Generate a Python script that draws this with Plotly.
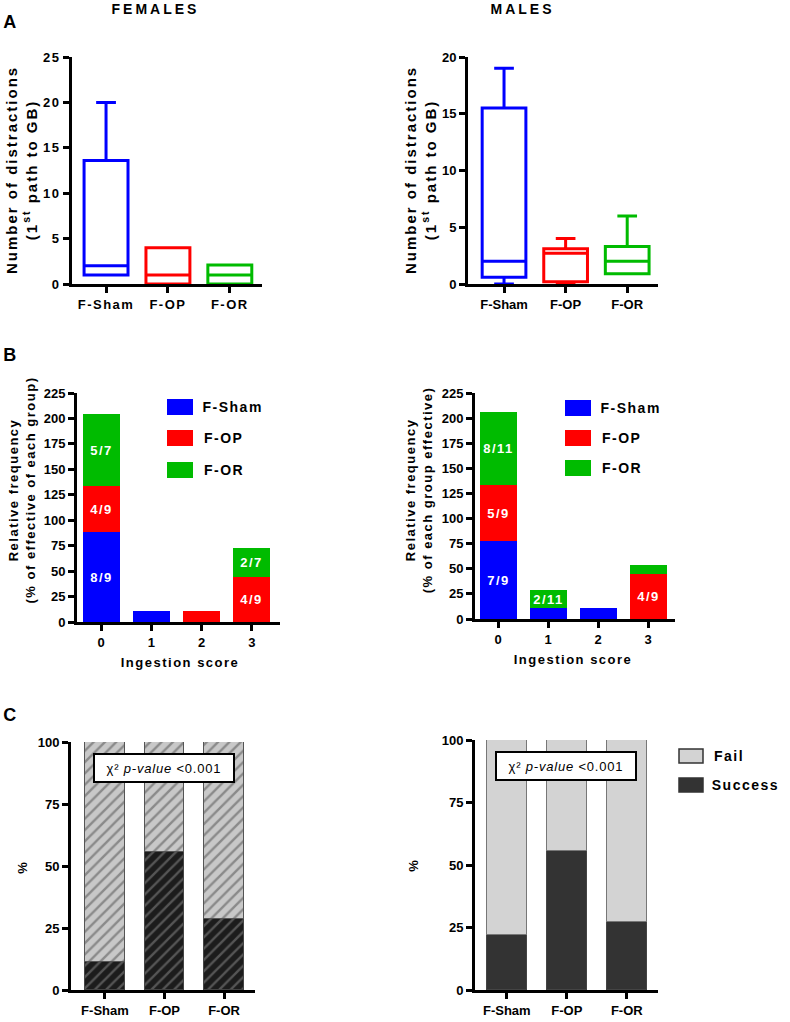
import plotly.graph_objects as go

W, H = 790, 1022

# --- data -------------------------------------------------------------
groups = ["F-Sham", "F-OP", "F-OR"]
colors = ["#0000ff", "#ff0000", "#00bb00"]

# panel A : box summaries (number of distractions)
fem_q1 = [1.0, 0.0, 0.0]
fem_med = [2.0, 1.0, 1.0]
fem_q3 = [13.6, 4.0, 2.1]
fem_lo = [1.0, 0.0, 0.0]
fem_hi = [20.0, 4.0, 2.1]

male_q1 = [0.6, 0.2, 0.9]
male_med = [2.0, 2.7, 2.0]
male_q3 = [15.5, 3.1, 3.3]
male_lo = [0.0, 0.0, 0.9]
male_hi = [19.0, 4.0, 6.0]

# panel B : relative frequency per ingestion score
scores = [0, 1, 2, 3]
fem_sham_B = [88.9, 11.1, None, None]
fem_op_B = [44.4, None, 11.1, 44.4]
fem_or_B = [71.4, None, None, 28.6]
fem_sham_lbl = ["8/9", None, None, None]
fem_op_lbl = ["4/9", None, None, "4/9"]
fem_or_lbl = ["5/7", None, None, "2/7"]

male_sham_B = [77.8, 11.1, 11.1, None]
male_op_B = [55.6, None, None, 44.4]
male_or_B = [72.7, 18.2, None, 9.1]
male_sham_lbl = ["7/9", None, None, None]
male_op_lbl = ["5/9", None, None, "4/9"]
male_or_lbl = ["8/11", "2/11", None, None]

# panel C : success / fail (%)
fem_success = [11.1, 55.6, 28.6]
fem_fail = [88.9, 44.4, 71.4]
male_success = [22.2, 55.6, 27.3]
male_fail = [77.8, 44.4, 72.7]


def px(x):
    return x / W


def py(y):
    return 1 - y / H


FONT = "Liberation Sans"
tickfont = dict(family=FONT, size=13, color="black", weight="bold")

fig = go.Figure()

# --- panel A ----------------------------------------------------------
for i, g in enumerate(groups):
    fig.add_trace(go.Box(x=[g], q1=[fem_q1[i]], median=[fem_med[i]], q3=[fem_q3[i]],
                         lowerfence=[fem_lo[i]], upperfence=[fem_hi[i]],
                         line=dict(color=colors[i], width=3), fillcolor="rgba(0,0,0,0)",
                         width=0.71, whiskerwidth=0.45, boxpoints=False,
                         xaxis="x", yaxis="y", showlegend=False))
    fig.add_trace(go.Box(x=[g], q1=[male_q1[i]], median=[male_med[i]], q3=[male_q3[i]],
                         lowerfence=[male_lo[i]], upperfence=[male_hi[i]],
                         line=dict(color=colors[i], width=3), fillcolor="rgba(0,0,0,0)",
                         width=0.71, whiskerwidth=0.45, boxpoints=False,
                         xaxis="x2", yaxis="y2", showlegend=False))

# --- panel B ----------------------------------------------------------
def stacked(vals, lbls, col, xa, ya):
    fig.add_trace(go.Bar(x=scores, y=vals, text=lbls, marker=dict(color=col, line=dict(width=0)),
                         width=0.74, textposition="inside", insidetextanchor="middle",
                         textangle=0, constraintext="none",
                         textfont=dict(family=FONT, size=13, color="white", weight="bold"),
                         xaxis=xa, yaxis=ya, showlegend=False))


stacked(fem_sham_B, fem_sham_lbl, colors[0], "x3", "y3")
stacked(fem_op_B, fem_op_lbl, colors[1], "x3", "y3")
stacked(fem_or_B, fem_or_lbl, colors[2], "x3", "y3")
stacked(male_sham_B, male_sham_lbl, colors[0], "x4", "y4")
stacked(male_op_B, male_op_lbl, colors[1], "x4", "y4")
stacked(male_or_B, male_or_lbl, colors[2], "x4", "y4")

# --- panel C ----------------------------------------------------------
fig.add_trace(go.Bar(x=groups, y=fem_success, width=0.67, xaxis="x5", yaxis="y5", showlegend=False,
                     marker=dict(color="#1c1c1c", line=dict(color="#444", width=1),
                                 pattern=dict(shape="/", bgcolor="#1c1c1c", fgcolor="#555555",
                                              size=8, solidity=0.3, fillmode="replace"))))
fig.add_trace(go.Bar(x=groups, y=fem_fail, width=0.67, xaxis="x5", yaxis="y5", showlegend=False,
                     marker=dict(color="#c8c8c8", line=dict(color="#555", width=1),
                                 pattern=dict(shape="/", bgcolor="#c8c8c8", fgcolor="#8a8a8a",
                                              size=8, solidity=0.3, fillmode="replace"))))
fig.add_trace(go.Bar(x=groups, y=male_success, width=0.67, xaxis="x6", yaxis="y6", showlegend=False,
                     marker=dict(color="#333333", line=dict(color="#444", width=1))))
fig.add_trace(go.Bar(x=groups, y=male_fail, width=0.67, xaxis="x6", yaxis="y6", showlegend=False,
                     marker=dict(color="#d3d3d3", line=dict(color="#777", width=1))))

# --- axes -------------------------------------------------------------
axbase = dict(showline=True, linewidth=3, linecolor="black", ticks="outside", ticklen=6,
              tickwidth=3, tickcolor="black", showgrid=False, zeroline=False,
              tickfont=tickfont, fixedrange=True, automargin=False)

panels = [
    # name, xdom px, ydom px (bottom, top), xrange, yrange, dtick
    ("", (72, 262), (284, 57), [-0.55, 2.52], [0, 25], 5),
    ("2", (468, 658), (284, 57), [-0.585, 2.5], [0, 20], 5),
    ("3", (77, 280), (622, 393), [-0.48, 3.56], [0, 225], 25),
    ("4", (475, 675), (619, 393), [-0.46, 3.54], [0, 225], 25),
    ("5", (71, 255), (990, 742), [-0.57, 2.52], [0, 100], 25),
    ("6", (475, 658), (990, 740), [-0.53, 2.52], [0, 100], 25),
]
for n, xd, yd, xr, yr, dt in panels:
    xa = dict(axbase, domain=[px(xd[0]), px(xd[1])], range=xr, anchor="y" + n)
    ya = dict(axbase, domain=[py(yd[0]), py(yd[1])], range=yr, dtick=dt, anchor="x" + n)
    if n in ("3", "4"):
        xa.update(tickvals=scores)
    fig.update_layout(**{"xaxis" + n: xa, "yaxis" + n: ya})

# --- text -------------------------------------------------------------
def note(x, y, text, size=13, angle=0, xanchor="center", **kw):
    fig.add_annotation(x=px(x), y=py(y), xref="paper", yref="paper", text=text, showarrow=False,
                       textangle=angle, xanchor=xanchor, yanchor="middle",
                       font=dict(family=FONT, size=size, color="black", weight="bold"), **kw)


note(155, 9, "FEMALES", size=14)
note(522, 9, "MALES", size=14)
note(10, 22, "A", size=18)
note(10, 355, "B", size=18)
note(10, 715, "C", size=18)

note(22, 170, "Number of distractions<br>(1<sup>st</sup> path to GB)", size=15, angle=-90)
note(421, 170, "Number of distractions<br>(1<sup>st</sup> path to GB)", size=15, angle=-90)
note(22, 490, "Relative frequency<br>(% of effective of each group)", size=13, angle=-90)
note(419, 490, "Relative frequency<br>(% of each group effective)", size=13, angle=-90)
note(180, 662, "Ingestion score", size=13)
note(573, 659, "Ingestion score", size=13)
note(22, 867, "%", size=13, angle=-90)
note(413, 865, "%", size=13, angle=-90)

for cx, cy in [(164, 768), (566, 766)]:
    fig.add_annotation(x=px(cx), y=py(cy), xref="paper", yref="paper", showarrow=False,
                       xanchor="center", yanchor="middle",
                       text="χ² <i>p-value</i> <0.001", width=134, height=22,
                       bgcolor="white", bordercolor="black", borderwidth=2, borderpad=2,
                       font=dict(family=FONT, size=13, color="black"))

# legend swatches
legend_names = ["F-Sham", "F-OP", "F-OR"]
for x0, ys in [(167, [407, 438, 470]), (565, [408, 438, 468])]:
    for name, col, yc in zip(legend_names, colors, ys):
        fig.add_shape(type="rect", xref="paper", yref="paper", x0=px(x0), x1=px(x0 + 26),
                      y0=py(yc + 8), y1=py(yc - 8), fillcolor=col, line=dict(width=0))
        note(x0 + 38, yc, name, size=14, xanchor="left")

for name, col, yc in [("Fail", "#d3d3d3", 756), ("Success", "#333333", 785)]:
    fig.add_shape(type="rect", xref="paper", yref="paper", x0=px(679), x1=px(703),
                  y0=py(yc + 7), y1=py(yc - 7), fillcolor=col, line=dict(color="#333", width=1.5))
    note(715, yc, name, size=14, xanchor="left")

fig.update_layout(width=W, height=H, margin=dict(l=0, r=0, t=0, b=0, autoexpand=False),
                  template="none", plot_bgcolor="white", paper_bgcolor="white", barmode="stack",
                  boxmode="overlay", bargap=0)

# page without body margin, letter-spaced bold labels like the original figure
post = """
document.body.style.margin = '0';
function spaceOut() {
  var gd = document.getElementById('{plot_id}');
  gd.querySelectorAll('.xtick text, .ytick text, .annotation-text, .bartext').forEach(function (t) {
    var s = t.textContent, sp = '1.5px';
    if (s.indexOf('\\u03c7') >= 0) { sp = '0.8px'; }
    else if (s.indexOf('distractions') >= 0) { sp = '2px'; }
    else if (s.indexOf('MALES') >= 0) { sp = '3px'; }
    t.style.letterSpacing = sp;
  });
}
setTimeout(spaceOut, 0);
"""
fig.write_html("out.html", post_script=post, config={"displayModeBar": False})
